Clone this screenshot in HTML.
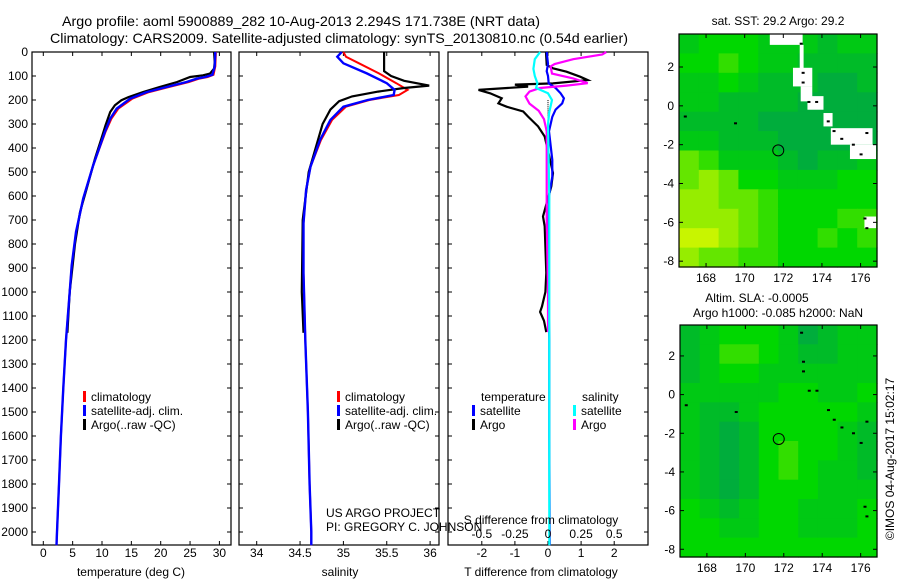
<!DOCTYPE html>
<html><head><meta charset="utf-8"><style>
html,body{margin:0;padding:0;background:#fff;}
svg{display:block;font-family:"Liberation Sans",sans-serif;}
</style></head><body>
<svg id="fig" width="900" height="580" viewBox="0 0 900 580" xmlns="http://www.w3.org/2000/svg">
<rect width="900" height="580" fill="#fff"/>
<text x="301" y="26" font-size="14" text-anchor="middle" textLength="478" lengthAdjust="spacingAndGlyphs">Argo profile: aoml 5900889_282 10-Aug-2013 2.294S 171.738E (NRT data)</text>
<text x="339" y="43" font-size="14" text-anchor="middle" textLength="578" lengthAdjust="spacingAndGlyphs">Climatology: CARS2009. Satellite-adjusted climatology: synTS_20130810.nc (0.54d earlier)</text>
<g id="g"></g>
</svg>
<script>
// ---------- data ----------
const depthTicks = [0,100,200,300,400,500,600,700,800,900,1000,1100,1200,1300,1400,1500,1600,1700,1800,1900,2000];
const tempTicks = [0,5,10,15,20,25,30];
const salTicks = [34,34.5,35,35.5,36];
const salTickLabels = ["34","34.5","35","35.5","36"];
const tdiffTicks = [-2,-1,0,1,2];
const sdiffTicks = [-0.5,-0.25,0,0.25,0.5];
const sdiffTickLabels = ["-0.5","-0.25","0","0.25","0.5"];

const climDepth = [0,60,95,104,111,125,146,167,194,236,278,333,472,611,750,889,1000,1200,1400,1600,1800,2000,2055];
const tempClim  = [29.4,29.3,29.0,28.0,26.6,24.8,21.4,18.0,15.2,12.8,11.6,10.6,8.5,6.8,5.6,4.85,4.5,3.87,3.4,3.0,2.67,2.33,2.25];
const tempSat   = [29.3,29.2,28.8,27.6,26.2,24.4,21.0,17.6,14.8,12.5,11.4,10.5,8.5,6.8,5.57,4.83,4.5,3.87,3.4,3.0,2.67,2.33,2.25];
const salDepth  = [0,20,47,89,130,158,179,200,228,283,367,478,575,713,921,1200,1500,1800,2000,2055];
const salClim   = [35.0,35.03,35.18,35.41,35.61,35.74,35.64,35.3,35.03,34.87,34.74,34.62,34.57,34.54,34.54,34.56,34.59,34.61,34.63,34.63];
const salSat    = [34.98,34.93,35.0,35.27,35.5,35.59,35.58,35.28,35.0,34.85,34.73,34.62,34.57,34.54,34.54,34.56,34.59,34.61,34.63,34.63];

const argoDepth = [0,42,69,90,97,104,125,146,167,188,201,222,250,306,361,444,569,667,800,1000,1170];
const tempArgo  = [29.1,29.2,29.1,28.4,27.2,25.0,22.8,19.8,17.0,14.5,13.3,12.2,11.4,10.6,9.9,8.8,7.4,6.25,5.4,4.5,4.1];
const salArgoDepth = [0,80,100,120,140,150,165,185,205,240,300,500,700,1000,1170];
const salArgo   = [35.47,35.47,35.55,35.7,35.99,35.7,35.4,35.1,34.95,34.85,34.76,34.6,34.53,34.52,34.54];

const tdDepth   = [0,54,68,82,103,117,131,136,144,158,172,193,214,228,248,269,310,352,504,560,685,727,920,1000,1060,1083,1120,1167];
const tdiffArgo = [-0.06,-0.04,0.15,0.56,0.97,1.2,0.15,-1.0,-0.6,-2.1,-1.75,-1.4,-1.5,-1.25,-0.75,-0.6,-0.3,-0.1,0.15,0.1,-0.15,-0.1,-0.05,-0.08,-0.18,-0.24,-0.12,-0.05];
const tsDepth   = [0,50,80,100,131,150,172,193,214,240,270,330,450,520,600,900,1200,1600,2055];
const tdiffSat  = [-0.04,0,-0.04,0,0.02,0.23,0.38,0.48,0.43,0.23,0.13,0.03,0.13,0.13,0.03,0,0.04,0.04,0.05];
const ssDepth   = [0,30,70,100,130,150,172,200,250,300,600,1000,1500,2055];
const sdiffSat  = [-0.06,-0.1,-0.11,-0.1,-0.08,-0.09,0,0.03,0.01,0,0.01,0.01,0.01,0.01];
const saDepth   = [0,10,30,50,60,90,110,130,140,150,165,185,215,245,280,330,450,700,1000,1167];
const sdiffArgo = [0.44,0.41,0.19,0.05,0.02,0.03,0.19,0.3,0.14,-0.06,-0.14,-0.17,-0.14,-0.07,-0.03,-0.01,-0.01,-0.01,0.0,0.0];

// map data: colour level 0 (teal) .. 8 (yellow-green); rows north->south, 1 deg each
const sstGrid = [
 [3,4,4,4,3,3,3,2,3,3],
 [4,4,5,4,3,3,2,2,2,2],
 [3,3,4,3,2,2,2,1,1,2],
 [3,3,2,2,2,2,1,1,1,1],
 [2,2,2,2,1,1,1,1,1,1],
 [3,3,2,2,2,1,1,1,1,1],
 [6,5,3,3,3,2,1,2,2,3],
 [6,7,6,4,4,3,3,3,4,4],
 [7,7,6,6,5,4,4,4,4,4],
 [7,7,7,6,5,4,4,4,5,5],
 [8,8,7,6,5,4,4,5,4,5],
 [7,6,6,5,5,4,4,4,4,4]];
const slaGrid = [
 [2,3,4,4,4,3,1,2,3,3],
 [2,3,5,5,4,3,2,2,3,3],
 [2,3,4,4,3,3,3,3,3,3],
 [3,3,3,3,3,4,4,3,3,4],
 [3,2,2,3,4,4,4,4,4,3],
 [3,2,1,2,4,4,4,4,3,2],
 [3,2,1,2,4,5,4,4,3,2],
 [3,2,1,2,4,5,4,3,3,2],
 [3,2,1,2,4,4,4,3,3,3],
 [4,3,2,3,4,4,3,3,3,4],
 [4,4,3,3,4,4,3,3,3,4],
 [4,4,4,4,4,4,4,4,4,4]];
// missing-data (white) boxes in SST map: [lon0,lon1,lat0,lat1]
const sstMissing = [[171.3,173.0,3.7,3.14],[172.85,173.05,3.14,1.9],[172.5,173.5,1.96,1.0],[172.9,173.5,1.0,0.23],[173.25,174.08,0.5,-0.2],[174.08,174.55,-0.37,-1.06],[174.46,176.62,-1.15,-2.0],[175.45,176.8,-2.0,-2.74],[176.2,176.8,-5.7,-6.3]];
const islands = [[172.9,3.2],[173.0,1.7],[173.0,1.2],[173.3,0.2],[173.7,0.2],[174.3,-0.8],[174.6,-1.3],[175.0,-1.7],[175.6,-2.0],[176.0,-2.5],[176.3,-1.4],[169.5,-0.9],[166.9,-0.55],[176.2,-5.8],[176.3,-6.3]];
const argoLon = 171.738, argoLat = -2.294;
const lonTicks = [168,170,172,174,176];
const latTicks = [2,0,-2,-4,-6,-8];

// ---------- helpers ----------
const NS="http://www.w3.org/2000/svg";
const G=document.getElementById('g');
function el(tag, attrs, parent){const e=document.createElementNS(NS,tag);for(const k in attrs)e.setAttribute(k,attrs[k]);(parent||G).appendChild(e);return e;}
const Y = d => 52 + d*0.24;
const TOP=52, BOT=545;
function line(xs, ds, fx, color, w, name){
  const pts = xs.map((v,i)=>fx(v).toFixed(1)+','+Y(ds[i]).toFixed(1)).join(' ');
  const p = el('polyline',{points:pts,fill:'none',stroke:color,'stroke-width':w,'stroke-linejoin':'miter'});
  
  
}
function text(x,y,s,opts){const t=el('text',Object.assign({x:x,y:y,'font-size':12},opts||{}));t.textContent=s;return t;}
function panelBox(x0,x1,name){
  const r=el('rect',{x:x0,y:TOP,width:x1-x0,height:BOT-TOP,fill:'none',stroke:'#000','stroke-width':1.2});
  
  
  depthTicks.forEach(d=>{
    el('line',{x1:x0,x2:x0+4,y1:Y(d),y2:Y(d),stroke:'#000'});
    el('line',{x1:x1-4,x2:x1,y1:Y(d),y2:Y(d),stroke:'#000'});
  });
}
function xTicks(vals,labels,fx,x0,x1,labelY,name){
  vals.forEach((v,i)=>{
    const x=fx(v);
    el('line',{x1:x,x2:x,y1:TOP,y2:TOP+4,stroke:'#000'});
    el('line',{x1:x,x2:x,y1:BOT-4,y2:BOT,stroke:'#000'});
    if(labelY){const t=text(x,labelY,labels[i],{'text-anchor':'middle'});
      
      }
  });
}
function legendEntry(x,y,color,label){
  const r=el('rect',{x:x,y:y-10,width:3,height:11,fill:color});
  
  
  const t=text(x+8,y,label);
  
  
}

// ---------- depth axis labels ----------
depthTicks.forEach(d=>{const t=text(28,Y(d)+4,String(d),{'text-anchor':'end'});
  
  });

// ---------- panel 1: temperature ----------
const fT = v => 43.3 + v*5.87;
panelBox(32,231,'temperature-panel');
xTicks(tempTicks,tempTicks.map(String),fT,32,231,557,'temperature-tick-label');
line(tempClim,climDepth,fT,'#f00',2,'temperature-climatology-line');
line(tempArgo,argoDepth,fT,'#000',2.2,'temperature-argo-line');
line(tempSat,climDepth,fT,'#00f',2.4,'temperature-satellite-line');
text(131,576,'temperature (deg C)',{'text-anchor':'middle'});
legendEntry(83,401,'#f00','climatology');
legendEntry(83,415,'#00f','satellite-adj. clim.');
legendEntry(83,429,'#000','Argo(..raw -QC)');

// ---------- panel 2: salinity ----------
const fS = v => 256.7 + (v-34)*86.7;
panelBox(239,439,'salinity-panel');
xTicks(salTicks,salTickLabels,fS,239,439,557,'salinity-tick-label');
line(salClim,salDepth,fS,'#f00',2,'salinity-climatology-line');
line(salArgo,salArgoDepth,fS,'#000',2.2,'salinity-argo-line');
line(salSat,salDepth,fS,'#00f',2.4,'salinity-satellite-line');
text(340,576,'salinity',{'text-anchor':'middle'});
legendEntry(337,401,'#f00','climatology');
legendEntry(337,415,'#00f','satellite-adj. clim.');
legendEntry(337,429,'#000','Argo(..raw -QC)');

// ---------- panel 3: differences ----------
const fTD = v => 548 + v*33.1;
const fSD = v => 548 + v*132.4;
panelBox(448,648,'difference-panel');
xTicks(tdiffTicks,tdiffTicks.map(String),fTD,448,648,557,'tdiff-tick-label');
for(let d=200; d<=300; d+=8){el('rect',{x:547.5,y:Y(d),width:1,height:1,fill:'#000'});}
line(tdiffArgo,tdDepth,fTD,'#000',2.2,'tdiff-argo-line');
line(tdiffSat,tsDepth,fTD,'#00f',2.2,'tdiff-satellite-line');
line(sdiffArgo,saDepth,fSD,'#f0f',2.2,'sdiff-argo-line');
line(sdiffSat,ssDepth,fSD,'#0ff',2.2,'sdiff-satellite-line');
sdiffTicks.forEach((v,i)=>{const t=text(fSD(v),538,sdiffTickLabels[i],{'text-anchor':'middle'});
  
  });
text(541,524,'S difference from climatology',{'text-anchor':'middle'});
text(541,576,'T difference from climatology',{'text-anchor':'middle'});
text(481,401,'temperature');
text(582,401,'salinity');
legendEntry(472,415,'#00f','satellite');
legendEntry(472,429,'#000','Argo');
legendEntry(573,415,'#0ff','satellite');
legendEntry(573,429,'#f0f','Argo');
text(326,517,'US ARGO PROJECT');
text(326,531,'PI: GREGORY C. JOHNSON');

// ---------- maps ----------
function lvlColor(L){
  let r,g,b;
  if(L<=4){const f=L/4; r=0; g=160+55*f; b=80*(1-f);}
  else {const f=(L-4)/4; r=200*f; g=215+30*f; b=0;}
  return `rgb(${r|0},${g|0},${b|0})`;
}
function drawMap(x0,x1,y0,y1,lon0,lon1,lat0,lat1,grid,missing,name){
  const fx = lo => x0 + (lo-lon0)/(lon1-lon0)*(x1-x0);
  const fy = la => y0 + (lat0-la)/(lat0-lat1)*(y1-y0);
  const cw=(lon1-lon0)/grid[0].length, ch=(lat0-lat1)/grid.length;
  grid.forEach((row,ri)=>row.forEach((v,ci)=>{
    const c=el('rect',{x:fx(lon0+ci*cw).toFixed(1),y:fy(lat0-ri*ch).toFixed(1),width:(fx(lon0+cw)-fx(lon0)+0.6).toFixed(1),height:(fy(lat0-ch)-fy(lat0)+0.6).toFixed(1),fill:lvlColor(v)});
    
    
  }));
  missing.forEach(m=>{el('rect',{x:fx(m[0]),y:fy(m[2]),width:fx(m[1])-fx(m[0]),height:fy(m[3])-fy(m[2]),fill:'#fff'});});
  islands.forEach(p=>{const i=el('rect',{x:fx(p[0])-1,y:fy(p[1])-1,width:3,height:2,fill:'#000'});
    
    });
  const c=el('circle',{cx:fx(argoLon),cy:fy(argoLat),r:5.5,fill:'none',stroke:'#000','stroke-width':1});
  
  
  const b=el('rect',{x:x0,y:y0,width:x1-x0,height:y1-y0,fill:'none',stroke:'#000','stroke-width':1.2});
  
  
  lonTicks.forEach(lo=>{const x=fx(lo);
    el('line',{x1:x,x2:x,y1:y0,y2:y0+4,stroke:'#000'});el('line',{x1:x,x2:x,y1:y1-4,y2:y1,stroke:'#000'});
    const t=text(x,y1+15,String(lo),{'text-anchor':'middle'});
    
    });
  latTicks.forEach(la=>{const y=fy(la);
    el('line',{x1:x0,x2:x0+4,y1:y,y2:y,stroke:'#000'});el('line',{x1:x1-4,x2:x1,y1:y,y2:y,stroke:'#000'});
    const t=text(x0-5,y+4,String(la),{'text-anchor':'end'});
    
    });
}
drawMap(679,877,34,267,166.6,176.85,3.7,-8.3,sstGrid,sstMissing,'sst-map');
drawMap(680,877,325,557,166.6,176.85,3.6,-8.4,slaGrid,[],'sla-map');
text(778,25,'sat. SST: 29.2 Argo: 29.2',{'text-anchor':'middle'});
text(757,302,'Altim. SLA: -0.0005',{'text-anchor':'middle'});
text(778,317,'Argo h1000: -0.085 h2000: NaN',{'text-anchor':'middle'});
const cr=text(0,0,'©IMOS 04-Aug-2017 15:02:17',{'text-anchor':'middle',transform:'translate(894,459) rotate(-90)'});


</script>
</body></html>
